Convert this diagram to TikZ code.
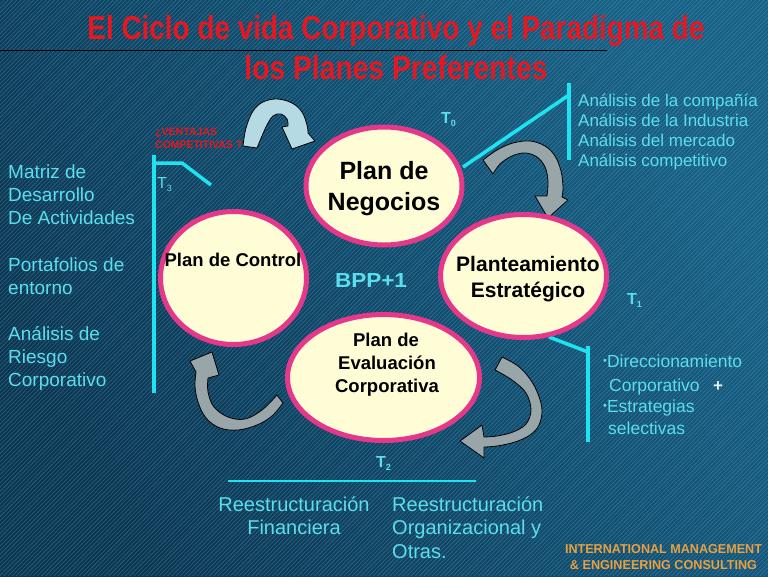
\documentclass[tikz,border=0pt]{standalone}
\usepackage{fontspec}
\setmainfont{Liberation Sans}
\usepackage{graphicx}
\usetikzlibrary{shapes.geometric}
\definecolor{bgdark}{RGB}{10,54,82}
\definecolor{bglight}{RGB}{22,96,134}
\definecolor{stripecol}{RGB}{150,200,225}
\definecolor{tcyan}{RGB}{90,222,238}
\definecolor{lcyan}{RGB}{30,228,242}
\definecolor{ttlred}{RGB}{232,22,30}
\definecolor{cream}{RGB}{255,253,214}
\definecolor{pinkb}{RGB}{229,56,139}
\definecolor{agray}{RGB}{152,166,170}
\definecolor{ablue}{RGB}{182,218,228}
\definecolor{orng}{RGB}{232,160,64}
\newcommand{\mytsub}[1]{T\raisebox{-3.5pt}{\fontsize{9}{9}\selectfont #1}}
\newcommand{\mybullet}{\raisebox{2.5pt}{\fontsize{11}{11}\selectfont •}}
\begin{document}
\begin{tikzpicture}[x=1pt,y=-1pt,
  plan/.style={ellipse, draw=pinkb, fill=cream, line width=5pt, inner sep=0pt},
  etext/.style={text=black, anchor=base, inner sep=0pt},
  ctext/.style={text=tcyan, anchor=base west, inner sep=0pt},
  cline/.style={draw=lcyan, line width=3.5pt},
  blockarrow/.style={fill=agray, draw=black, line width=0.8pt, line join=round},
  tlabel/.style={text=tcyan, anchor=base west, inner sep=0pt, font=\fontsize{16}{16}\selectfont}
]
\useasboundingbox (0,0) rectangle (768,576);
\shade[shading=axis, top color=bglight, bottom color=bgdark, shading angle=-60] (0,0) rectangle (768,576);
\begin{scope}
\clip (0,0) rectangle (768,576);
\foreach \k in {0,4.2,...,1350} \draw[stripecol, opacity=0.27, line width=0.6pt] (\k,0) -- (\k-576,576);
\end{scope}

% title
\draw[black, line width=1pt] (0,50) -- (607,50);
\node[anchor=base, inner sep=0pt, text=ttlred] (t1) at (396,39) {\resizebox{617pt}{24pt}{\bfseries El Ciclo de vida Corporativo y el Paradigma de}};
\node[anchor=base, inner sep=0pt, text=ttlred] (t2) at (396,79) {\resizebox{303pt}{24pt}{\bfseries los Planes Preferentes}};

% ventajas
\node[anchor=base west, inner sep=0pt, text=ttlred] (v1) at (155,135) {\resizebox{62pt}{7.5pt}{\bfseries ¿VENTAJAS}};
\node[anchor=base west, inner sep=0pt, text=ttlred] (v2) at (155,148) {\resizebox{87pt}{7.5pt}{\bfseries COMPETITIVAS ?}};

% cyan connector coordinates
\coordinate (a0) at (463,167);
\coordinate (b0) at (569,95);
\coordinate (c0) at (569,83);
\coordinate (d0) at (569,160);
\coordinate (a1) at (549,337);
\coordinate (b1) at (588,352);
\coordinate (c1) at (588,346);
\coordinate (d1) at (588,442);
\coordinate (c3) at (154,155);
\coordinate (d3) at (154,393);
\coordinate (b3) at (154,163);
\coordinate (e3) at (182,163);
\coordinate (f3) at (211,185);
\coordinate (a2) at (228,481);
\coordinate (b2) at (476,481);

\draw[cline] (a0) -- (b0);
\draw[cline] (c0) -- (d0);
\draw[cline] (a1) -- (b1);
\draw[cline] (c1) -- (d1);
\draw[cline] (c3) -- (d3);
\draw[cline, line join=miter] (b3) -- (e3) -- (f3);
\draw[draw=lcyan, line width=1.8pt] (a2) -- (b2);

% arrows
\filldraw[blockarrow, fill=ablue] plot[smooth, tension=0.6] coordinates {(243,146) (246,128) (253,111) (263,102) (277,99) (292,103) (302,112) (307,125) (308,133)}
  -- (315,141) -- (292,149) -- (282,127)
  -- plot[smooth, tension=0.6] coordinates {(288,126) (287,119) (281,114) (273,116) (266,127) (257,148)} -- cycle;
\filldraw[blockarrow] plot[smooth, tension=0.6] coordinates {(483,160) (497,150) (513,143) (530,141) (545,146) (555,156) (561,171) (563,187) (562,197)}
  -- (568,200) -- (548,218) -- (535,196)
  -- plot[smooth, tension=0.6] coordinates {(547,196) (548,181) (545,167) (537,157) (525,153) (512,156) (500,164) (493,174)} -- cycle;
\filldraw[blockarrow] plot[smooth, tension=0.6] coordinates {(502,357) (518,366) (530,379) (538,394) (542,410) (539,425) (530,435) (515,442) (497,446) (484,447)}
  -- (484,458) -- (460,441) -- (482,425)
  -- plot[smooth, tension=0.6] coordinates {(484,437) (497,436) (513,432) (526,424) (531,410) (526,393) (512,380) (495,370)} -- cycle;
\filldraw[blockarrow] plot[smooth, tension=0.6] coordinates {(283,403) (272,416) (257,425) (238,430) (220,428) (206,418) (198,402) (195,386) (196,372)}
  -- (190,361) -- (212,352) -- (219,375)
  -- plot[smooth, tension=0.6] coordinates {(208,378) (208,392) (214,407) (228,417) (245,419) (262,410) (277,395)} -- cycle;

% ellipses
\node[plan, minimum width=156pt, minimum height=118pt] (neg) at (384,186) {};
\node[plan, minimum width=166pt, minimum height=123pt] (pla) at (523.5,276) {};
\node[plan, minimum width=146pt, minimum height=133pt] (con) at (233.5,278) {};
\node[plan, minimum width=192pt, minimum height=126pt] (eva) at (383.5,377.5) {};

\node[etext, font=\fontsize{25}{25}\selectfont\bfseries] (neg1) at (384,179) {Plan de};
\node[etext, font=\fontsize{25}{25}\selectfont\bfseries] (neg2) at (384,210) {Negocios};
\node[etext, font=\fontsize{18.5}{18.5}\selectfont\bfseries] (con1) at (233,266) {Plan de Control};
\node[etext, font=\fontsize{21}{21}\selectfont\bfseries] (pla1) at (528,271) {Planteamiento};
\node[etext, font=\fontsize{21}{21}\selectfont\bfseries] (pla2) at (528,297) {Estratégico};
\node[etext, font=\fontsize{18.5}{18.5}\selectfont\bfseries] (eva1) at (386,346) {Plan de};
\node[etext, font=\fontsize{18.5}{18.5}\selectfont\bfseries] (eva2) at (387,369) {Evaluación};
\node[etext, font=\fontsize{18.5}{18.5}\selectfont\bfseries] (eva3) at (387,392) {Corporativa};

\node[anchor=base, inner sep=0pt, text=tcyan] (bpp) at (371,287) {\resizebox{72pt}{14pt}{\bfseries BPP+1}};

% T labels
\node[tlabel, font=\fontsize{16}{16}\selectfont\bfseries] (T0) at (441,123) {\mytsub{0}};
\node[tlabel, font=\fontsize{16}{16}\selectfont\bfseries] (T1) at (627,304) {\mytsub{1}};
\node[tlabel, font=\fontsize{16}{16}\selectfont\bfseries] (T2) at (376,467) {\mytsub{2}};
\node[tlabel] (T3) at (157,188) {\mytsub{3}};

% left text
\begin{scope}[every node/.style={ctext, font=\fontsize{19}{19}\selectfont}]
\node (l1) at (8,178) {Matriz de};
\node (l2) at (8,201) {Desarrollo};
\node (l3) at (8,224) {De Actividades};
\node (l4) at (8,271) {Portafolios de};
\node (l5) at (8,294) {entorno};
\node (l6) at (8,340) {Análisis de};
\node (l7) at (8,363) {Riesgo};
\node (l8) at (8,386) {Corporativo};
\end{scope}

% right top text
\begin{scope}[every node/.style={ctext, font=\fontsize{17}{17}\selectfont}]
\node (r1) at (578,106) {Análisis de la compañía};
\node (r2) at (578,126) {Análisis de la Industria};
\node (r3) at (578,146) {Análisis del mercado};
\node (r4) at (578,166) {Análisis competitivo};
\end{scope}

% T1 text
\begin{scope}[every node/.style={ctext, font=\fontsize{17.5}{17.5}\selectfont}]
\node (s1) at (603,367) {\mybullet Direccionamiento};
\node (s2) at (609,391) {Corporativo};
\node (s3) at (603,412) {\mybullet Estrategias};
\node (s4) at (608,434) {selectivas};
\end{scope}
\node[anchor=base, inner sep=0pt, text={rgb,255:red,225;green,240;blue,242}, font=\fontsize{17}{17}\selectfont\bfseries] (plus) at (718,391) {+};

% bottom text
\begin{scope}[every node/.style={text=tcyan, anchor=base, inner sep=0pt, font=\fontsize{20}{20}\selectfont}]
\node (f1) at (294,511) {Reestructuración};
\node (f2) at (294,534) {Financiera};
\end{scope}
\begin{scope}[every node/.style={ctext, font=\fontsize{20}{20}\selectfont}]
\node (o1) at (392,511) {Reestructuración};
\node (o2) at (392,534) {Organizacional y};
\node (o3) at (392,558) {Otras.};
\end{scope}

% company
\node[anchor=base, inner sep=0pt, text=orng] (im1) at (663.5,553.5) {\resizebox{197pt}{9pt}{\bfseries INTERNATIONAL MANAGEMENT}};
\node[anchor=base, inner sep=0pt, text=orng] (im2) at (663.5,569.5) {\resizebox{187pt}{9pt}{\bfseries \& ENGINEERING CONSULTING}};
\end{tikzpicture}
\end{document}
